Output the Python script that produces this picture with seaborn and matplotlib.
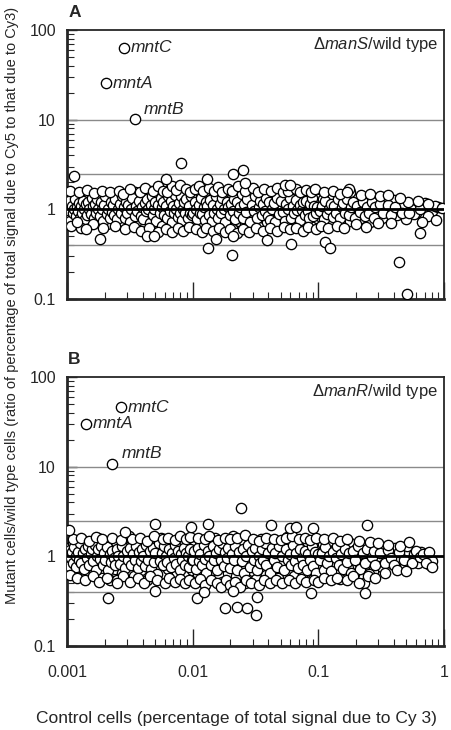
import matplotlib
matplotlib.use("Agg")
import matplotlib.pyplot as plt
import seaborn as sns
import pandas as pd
from matplotlib.ticker import LogLocator, NullFormatter

sns.set_style("ticks")
plt.rcParams['font.family'] = ['Liberation Sans', 'DejaVu Sans']
plt.rcParams['mathtext.fontset'] = 'custom'
plt.rcParams['mathtext.rm'] = 'Liberation Sans'
plt.rcParams['mathtext.it'] = 'Liberation Sans:italic'

# ---------------- data ----------------
X_TICKS = [0.001, 0.01, 0.1, 1]
X_TICK_LABELS = ["0.001", "0.01", "0.1", "1"]
Y_TICKS = [0.1, 1, 10, 100]
Y_TICK_LABELS = ["0.1", "1", "10", "100"]
GUIDE_LINES = [0.4, 2.5, 10]
UNITY = 1.0

GENES = ["mntC", "mntA", "mntB"]
A_GENE_X = [0.00284, 0.00204, 0.00348]
A_GENE_Y = [63.0, 25.6, 10.2]
B_GENE_X = [0.0027, 0.00142, 0.00228]
B_GENE_Y = [46.0, 30.0, 10.6]

A_POINTS = [
    (0.00102,1.18),(0.00103,0.92),(0.00105,1.05),(0.00107,0.85),(0.00108,1.32),(0.0011,1.0),(0.00112,0.78),
    (0.00113,1.12),(0.00115,1.45),(0.00117,0.95),(0.0012,1.22),(0.00122,0.7),(0.00124,1.08),(0.00126,0.88),
    (0.00128,1.38),(0.0013,1.0),(0.00133,0.82),(0.00135,1.15),(0.00138,0.66),(0.0014,1.28),(0.00143,0.93),
    (0.00146,1.05),(0.0015,1.5),(0.00152,0.76),(0.00155,1.12),(0.00158,0.97),(0.00162,1.3),(0.00165,0.86),
    (0.00168,1.02),(0.00172,1.2),(0.00175,0.72),(0.0018,1.4),(0.00183,0.9),(0.00187,1.08),(0.0019,0.8),
    (0.00195,1.25),(0.002,0.98),(0.00205,1.15),(0.0021,0.68),(0.00215,1.35),(0.0022,0.9),(0.00225,1.05),
    (0.0023,1.2),(0.00235,0.78),(0.0024,1.48),(0.00245,0.95),(0.0025,1.1),(0.0026,0.85),(0.00265,1.28),
    (0.0027,1.0),(0.0028,0.73),(0.00285,1.18),(0.0029,0.92),(0.003,1.4),(0.00305,1.05),(0.0031,0.82),
    (0.0032,1.22),(0.0033,0.96),(0.00335,0.7),(0.0034,1.12),(0.0035,1.55),(0.0036,0.88),(0.00365,1.3),
    (0.0037,1.0),(0.0038,0.76),(0.0039,1.16),(0.004,0.93),(0.0041,1.42),(0.0042,0.64),(0.0043,1.08),
    (0.0044,0.85),(0.0045,1.25),(0.0046,1.62),(0.0047,0.98),(0.0048,0.72),(0.0049,1.15),(0.005,1.35),
    (0.0051,0.9),(0.0052,1.05),(0.00535,0.6),(0.0055,1.2),(0.0056,0.8),(0.0057,1.45),(0.0058,1.0),
    (0.0059,0.68),(0.006,1.3),(0.0062,0.92),(0.0063,1.12),(0.0065,0.75),(0.0066,1.7),(0.0067,1.02),
    (0.0069,0.86),(0.007,1.38),(0.0072,0.62),(0.0073,1.18),(0.0075,0.95),(0.0077,1.5),(0.0078,0.78),
    (0.008,1.08),(0.0081,1.28),(0.0083,0.88),(0.0085,1.6),(0.0086,0.7),(0.0088,1.15),(0.009,0.97),
    (0.0092,1.35),(0.0094,0.82),(0.0096,1.05),(0.0098,1.22),
    (0.0102,1.1),(0.0105,0.85),(0.0108,1.3),(0.011,0.95),(0.0113,1.55),(0.0115,0.72),(0.0118,1.05),
    (0.012,1.2),(0.0123,0.8),(0.0126,1.4),(0.013,0.98),(0.0133,0.66),(0.0136,1.15),(0.014,0.9),
    (0.0143,1.32),(0.0147,1.02),(0.015,0.76),(0.0154,1.25),(0.0158,0.87),(0.0162,1.6),(0.0166,1.08),
    (0.017,0.7),(0.0175,1.18),(0.018,0.94),(0.0185,1.42),(0.019,0.82),(0.0195,1.0),(0.02,1.28),
    (0.0205,0.62),(0.021,1.12),(0.0215,0.9),(0.022,1.48),(0.023,1.04),(0.0235,0.75),(0.024,1.22),
    (0.025,0.96),(0.0255,1.36),(0.026,0.68),(0.027,1.1),(0.0275,0.86),(0.028,1.65),(0.029,1.0),
    (0.03,0.78),(0.031,1.26),(0.032,0.92),(0.033,1.14),(0.034,0.64),(0.035,1.4),(0.036,1.02),
    (0.037,0.84),(0.038,1.2),(0.039,0.72),(0.04,1.5),(0.041,0.95),(0.0425,1.08),(0.044,0.8),
    (0.045,1.3),(0.046,0.9),(0.048,1.16),(0.05,0.7),(0.051,1.02),(0.053,1.38),(0.055,0.86),
    (0.056,1.12),(0.058,0.75),(0.06,1.25),(0.062,0.97),(0.063,1.45),(0.065,0.82),(0.067,1.06),
    (0.069,0.66),(0.07,1.2),(0.073,0.92),(0.075,1.34),(0.077,0.78),(0.079,1.1),(0.081,0.88),
    (0.083,1.5),(0.085,1.0),(0.088,0.72),(0.09,1.22),(0.092,0.94),(0.095,1.15),(0.097,0.8),(0.099,1.3),
    (0.102,1.15),(0.105,0.82),(0.108,1.32),(0.112,0.95),(0.115,1.05),(0.12,0.7),(0.124,1.22),
    (0.128,0.88),(0.132,1.4),(0.136,1.0),(0.14,0.78),(0.145,1.12),(0.15,0.92),(0.155,1.28),
    (0.16,0.84),(0.165,1.05),(0.172,1.48),(0.178,0.74),(0.185,1.18),(0.19,0.96),(0.2,1.3),
    (0.205,0.86),(0.21,1.08),(0.22,0.8),(0.23,1.2),(0.24,0.95),(0.25,1.12),(0.26,0.72),(0.27,1.02),
    (0.28,1.3),(0.29,0.88),(0.3,1.1),(0.32,0.8),(0.34,1.2),(0.35,0.94),(0.37,1.05),(0.4,1.28),
    (0.42,0.86),(0.44,1.0),(0.48,1.15),(0.5,0.78),(0.55,1.02),(0.6,0.92),(0.7,1.18),(0.8,0.95),(0.9,1.05),
]

A_POINTS_DENSE = [
    (0.00101,0.98),(0.00104,1.25),(0.00106,0.75),(0.00109,1.1),(0.00111,0.9),(0.00114,1.02),(0.00116,1.3),
    (0.00119,0.84),(0.00121,1.05),(0.00123,0.95),(0.00125,1.18),(0.00127,0.8),(0.00129,1.1),(0.00132,0.9),
    (0.00134,1.25),(0.00137,1.0),(0.00139,0.78),(0.00142,1.15),(0.00145,0.86),(0.00148,1.2),(0.00151,1.0),
    (0.00154,0.88),(0.00157,1.35),(0.0016,1.08),(0.00163,0.8),(0.00167,1.15),(0.0017,0.92),(0.00174,1.3),
    (0.00178,1.0),(0.00182,0.84),(0.00185,1.2),(0.00189,1.0),(0.00193,0.75),(0.00198,1.12),(0.00202,1.4),
    (0.00208,0.88),(0.00212,1.02),(0.00218,0.8),(0.00222,1.22),(0.00228,0.94),(0.00233,1.12),(0.00238,0.86),
    (0.00243,1.3),(0.00248,0.78),(0.00255,1.02),(0.00262,1.16),(0.00268,0.9),(0.00275,1.4),(0.00282,1.05),
    (0.00288,0.8),(0.00295,1.22),(0.00302,0.9),(0.00308,1.12),(0.00315,0.72),(0.00325,1.0),(0.00332,1.35),
    (0.00345,0.84),(0.00355,1.08),(0.00362,0.95),(0.00375,1.25),(0.00385,0.84),(0.00395,1.05),(0.00405,0.78),
    (0.00415,1.18),(0.00425,0.95),(0.00435,1.3),(0.00445,1.02),(0.00455,0.7),(0.00465,1.12),(0.00475,1.4),
    (0.00485,0.86),(0.00495,1.02),(0.00505,1.22),(0.00515,0.75),(0.0053,1.12),(0.00545,0.92),(0.00555,1.35),
    (0.00565,0.66),(0.00575,1.05),(0.00585,1.2),(0.00595,0.86),(0.0061,1.1),(0.00625,0.8),(0.0064,1.4),
    (0.00655,0.96),(0.00675,1.25),(0.00685,0.72),(0.00695,1.08),(0.0071,0.9),(0.00725,1.45),(0.0074,1.02),
    (0.0076,0.82),(0.00775,1.18),(0.0079,0.9),(0.00805,1.4),(0.0082,0.76),(0.0084,1.02),(0.00855,1.22),
    (0.0087,0.9),(0.0089,1.3),(0.0091,0.8),(0.0093,1.1),(0.0095,0.92),(0.0097,1.4),(0.0099,0.86),
    (0.0101,0.92),(0.0104,1.2),(0.0107,1.0),(0.0109,0.78),(0.0112,1.12),(0.0114,0.9),(0.0117,1.35),
    (0.0119,0.88),(0.0122,1.05),(0.0125,0.76),(0.0128,1.22),(0.0131,1.08),(0.0135,0.86),(0.0138,1.28),
    (0.0142,0.74),(0.0145,1.12),(0.0149,0.92),(0.0152,1.42),(0.0156,1.0),(0.016,0.8),(0.0164,1.15),
    (0.0168,0.9),(0.0172,1.35),(0.0177,1.0),(0.0182,0.72),(0.0187,1.2),(0.0192,1.05),(0.0197,0.86),
    (0.0202,1.15),(0.0208,0.95),(0.0212,1.32),(0.0218,0.78),(0.0225,1.2),(0.0232,0.9),(0.0238,1.05),
    (0.0245,1.5),(0.0252,0.8),(0.0258,1.15),(0.0265,0.94),(0.0272,1.3),(0.0285,0.72),(0.0295,1.12),
    (0.0305,0.95),(0.0315,1.4),(0.0325,0.8),(0.0335,1.05),(0.0345,1.25),(0.0355,0.86),(0.0365,1.15),
    (0.0375,0.96),(0.0385,1.35),(0.0395,0.84),(0.0405,1.2),(0.0415,0.76),(0.043,1.02),(0.0445,1.18),
    (0.0455,0.72),(0.047,1.35),(0.049,0.88),(0.0505,1.25),(0.052,0.94),(0.054,0.74),(0.055,1.15),
    (0.057,1.02),(0.059,1.35),(0.061,0.8),(0.0625,1.1),(0.0645,0.9),(0.066,1.28),(0.068,0.98),
    (0.071,0.76),(0.072,1.12),(0.074,0.98),(0.076,1.2),(0.078,0.86),(0.08,1.25),(0.082,0.96),
    (0.084,0.8),(0.086,1.15),(0.089,1.35),(0.091,0.84),(0.093,1.1),(0.096,0.9),(0.098,1.05),
    (0.103,0.95),(0.107,1.1),(0.11,0.78),(0.114,1.25),(0.118,0.88),(0.122,1.02),(0.126,1.15),
    (0.13,0.82),(0.134,1.08),(0.138,0.92),(0.143,1.3),(0.148,0.8),(0.153,1.05),(0.158,1.18),
    (0.163,0.92),(0.168,1.3),(0.175,0.86),(0.182,1.05),(0.188,1.2),(0.195,0.8),(0.202,1.1),
    (0.215,0.94),(0.225,1.22),(0.235,0.84),(0.245,1.05),(0.255,0.9),(0.265,1.2),(0.275,0.8),
    (0.285,1.05),(0.31,1.15),(0.33,0.9),(0.36,1.12),(0.38,0.86),(0.41,1.05),(0.46,0.9),
    (0.52,1.2),(0.58,0.88),(0.65,1.02),(0.75,0.85),(0.85,1.1),
]

A_EDGE = [
    (0.00106,1.6),(0.00125,1.55),(0.00145,1.65),(0.00165,1.52),(0.0019,1.6),(0.0022,1.55),(0.0026,1.62),
    (0.0028,1.5),(0.0032,1.68),(0.0038,1.58),(0.0042,1.75),(0.0048,1.6),(0.0053,1.8),(0.0058,1.62),
    (0.0063,1.55),(0.0069,1.8),(0.0074,1.65),(0.0079,1.85),(0.0089,1.7),(0.0095,1.58),(0.0104,1.7),
    (0.0112,1.82),(0.012,1.62),(0.0135,1.75),(0.0148,1.6),(0.016,1.78),(0.0172,1.55),(0.019,1.7),
    (0.0205,1.62),(0.023,1.8),(0.0262,1.6),(0.03,1.72),(0.033,1.55),(0.037,1.68),(0.042,1.6),
    (0.047,1.75),(0.052,1.58),(0.057,1.62),(0.066,1.7),(0.072,1.55),(0.08,1.65),(0.087,1.58),
    (0.094,1.7),(0.11,1.55),(0.13,1.6),(0.15,1.5),(0.18,1.58),(0.22,1.45),(0.26,1.5),(0.31,1.42),(0.36,1.45),
    (0.00108,0.66),(0.0013,0.62),(0.0016,0.68),(0.00195,0.62),(0.0024,0.66),(0.0029,0.6),(0.0034,0.64),
    (0.0039,0.58),(0.0045,0.62),(0.0053,0.56),(0.0061,0.6),(0.0068,0.56),(0.0076,0.62),(0.0084,0.58),
    (0.0093,0.64),(0.0106,0.6),(0.0118,0.56),(0.0128,0.62),(0.0145,0.58),(0.0163,0.62),(0.018,0.56),
    (0.02,0.6),(0.0225,0.54),(0.025,0.6),(0.028,0.56),(0.032,0.62),(0.036,0.58),(0.041,0.62),
    (0.047,0.58),(0.053,0.64),(0.06,0.6),(0.067,0.62),(0.075,0.58),(0.083,0.64),(0.095,0.6),
    (0.105,0.66),(0.12,0.62),(0.14,0.66),(0.16,0.62),(0.2,0.68),(0.24,0.64),(0.3,0.7),(0.38,0.7),
]

A_OUTLIERS = [
    (0.0081,3.26),(0.00114,2.34),(0.021,2.5),(0.025,2.73),(0.0061,2.2),(0.013,2.16),(0.026,1.95),
    (0.054,1.85),(0.059,1.85),(0.175,1.67),(0.168,1.55),(0.45,1.33),(0.62,1.23),(0.75,1.14),
    (0.97,1.03),(0.87,0.77),(0.64,0.54),(0.67,0.72),(0.53,0.9),
    (0.00183,0.47),(0.0043,0.51),(0.0049,0.51),(0.0132,0.37),(0.0153,0.47),(0.0206,0.31),(0.021,0.5),
    (0.039,0.45),(0.0605,0.41),(0.113,0.43),(0.123,0.37),(0.44,0.26),(0.51,0.115),
    (0.0012,0.73),(0.00142,0.61),
]

B_POINTS = [
    (0.00103,1.25),(0.00105,0.9),(0.00107,1.05),(0.00109,0.8),(0.00111,1.4),(0.00113,0.98),(0.00115,0.7),
    (0.00118,1.15),(0.0012,0.88),(0.00123,1.3),(0.00126,1.02),(0.00129,0.76),(0.00132,1.2),(0.00135,0.94),
    (0.00138,1.5),(0.00142,0.66),(0.00145,1.1),(0.00148,0.85),(0.00152,1.32),(0.00156,1.0),(0.0016,0.74),
    (0.00164,1.22),(0.00168,0.92),(0.00172,1.08),(0.00176,1.6),(0.0018,0.82),(0.00185,1.15),(0.0019,0.58),
    (0.00195,1.0),(0.002,1.38),(0.00205,0.78),(0.0021,1.12),(0.00215,0.9),(0.0022,0.54),(0.00225,1.26),
    (0.0023,1.02),(0.0024,0.72),(0.00245,1.45),(0.0025,0.88),(0.0026,1.18),(0.0027,0.95),(0.00275,0.66),
    (0.00285,1.3),(0.00295,1.05),(0.003,0.8),(0.0031,1.7),(0.0032,0.92),(0.0033,1.2),(0.0034,0.6),
    (0.0035,1.08),(0.0036,0.84),(0.0037,1.4),(0.0038,0.98),(0.0039,0.7),(0.004,1.25),(0.0041,0.9),
    (0.0042,1.12),(0.00435,0.55),(0.0045,1.5),(0.0046,0.82),(0.0047,1.05),(0.00485,0.68),(0.005,1.3),
    (0.0051,0.94),(0.00525,1.18),(0.0054,0.76),(0.0055,1.02),(0.0056,1.62),(0.00575,0.62),(0.0059,1.22),
    (0.006,0.88),(0.0062,1.1),(0.00635,0.72),(0.0065,1.42),(0.0066,0.96),(0.0068,0.56),(0.007,1.28),
    (0.0071,0.85),(0.0073,1.06),(0.0075,0.66),(0.0077,1.55),(0.0078,0.92),(0.008,1.15),(0.0082,0.78),
    (0.0084,1.35),(0.0086,1.0),(0.0088,0.6),(0.009,1.2),(0.0092,0.86),(0.0095,1.45),(0.0097,0.98),(0.0099,0.7),
    (0.0102,1.3),(0.0105,0.82),(0.0108,1.08),(0.0111,0.64),(0.0114,1.5),(0.0117,0.95),(0.012,1.2),
    (0.0123,0.74),(0.0127,1.02),(0.013,1.38),(0.0134,0.58),(0.0138,0.88),(0.0142,1.15),(0.0146,0.7),
    (0.015,1.6),(0.0155,0.98),(0.016,0.8),(0.0165,1.25),(0.017,0.52),(0.0175,1.05),(0.018,0.9),
    (0.0185,1.4),(0.019,0.66),(0.0195,1.12),(0.02,0.84),(0.021,1.7),(0.0215,1.0),(0.022,0.6),
    (0.023,1.22),(0.024,0.78),(0.025,1.45),(0.0255,0.94),(0.026,0.5),(0.027,1.1),(0.028,0.86),
    (0.029,1.32),(0.03,0.68),(0.031,1.05),(0.032,0.56),(0.033,1.18),(0.034,0.92),(0.035,1.55),
    (0.036,0.76),(0.037,1.02),(0.038,0.62),(0.039,1.28),(0.04,0.88),(0.042,1.12),(0.043,0.72),
    (0.045,1.42),(0.046,0.97),(0.048,0.58),(0.05,1.2),(0.052,0.84),(0.054,1.06),(0.056,1.65),
    (0.058,0.7),(0.06,1.3),(0.062,0.92),(0.064,0.6),(0.066,1.15),(0.068,1.5),(0.07,0.8),(0.072,1.02),
    (0.075,0.66),(0.077,1.25),(0.08,0.9),(0.082,1.4),(0.085,0.74),(0.087,1.1),(0.09,0.56),(0.092,0.95),
    (0.095,1.28),(0.098,0.82),
    (0.102,1.18),(0.105,0.78),(0.108,1.38),(0.112,0.92),(0.116,0.6),(0.12,1.08),(0.125,1.5),(0.13,0.85),
    (0.135,1.2),(0.14,0.7),(0.145,1.02),(0.15,0.56),(0.155,1.3),(0.16,0.9),(0.166,1.12),(0.172,0.74),
    (0.18,1.42),(0.186,0.96),(0.192,0.64),(0.2,1.2),(0.21,0.86),(0.22,1.05),(0.23,0.5),(0.24,1.3),
    (0.25,0.8),(0.26,1.1),(0.27,0.68),(0.28,1.25),(0.29,0.94),(0.3,1.02),(0.32,0.76),(0.33,1.2),
    (0.35,0.9),(0.37,1.1),(0.39,0.82),(0.41,1.25),(0.43,0.96),(0.46,1.08),(0.49,0.78),(0.52,1.15),
    (0.55,0.92),(0.58,1.05),(0.62,0.85),(0.66,1.12),(0.7,0.95),(0.74,1.08),(0.78,0.8),(0.8,0.88),
]

B_POINTS_DENSE = [
    (0.00101,1.05),(0.00104,0.78),(0.00106,1.18),(0.00108,0.95),(0.0011,1.12),(0.00112,0.84),(0.00114,1.28),
    (0.00117,1.0),(0.00119,0.76),(0.00122,1.12),(0.00125,0.9),(0.00127,1.4),(0.0013,0.85),(0.00134,1.08),
    (0.00137,0.72),(0.0014,1.2),(0.00144,0.96),(0.00147,1.3),(0.0015,0.8),(0.00154,1.05),(0.00158,1.22),
    (0.00162,0.88),(0.00166,1.35),(0.0017,0.7),(0.00174,1.0),(0.00178,1.2),(0.00183,0.94),(0.00188,1.3),
    (0.00192,0.8),(0.00197,1.1),(0.00202,0.9),(0.00208,1.28),(0.00212,0.7),(0.00218,1.05),(0.00222,0.86),
    (0.00228,1.15),(0.00235,0.96),(0.00242,0.8),(0.00248,1.2),(0.00255,1.02),(0.00265,0.82),(0.00272,1.32),
    (0.0028,1.0),(0.0029,0.74),(0.00298,1.15),(0.00305,0.92),(0.00315,1.25),(0.00325,0.8),(0.00335,1.05),
    (0.00345,0.9),(0.00355,1.3),(0.00365,0.74),(0.00375,1.12),(0.00385,0.88),(0.00395,1.2),(0.00405,1.02),
    (0.00415,0.78),(0.00425,1.35),(0.00445,0.92),(0.00455,1.15),(0.00465,0.72),(0.0048,1.25),(0.00495,0.86),
    (0.00505,1.08),(0.0052,0.64),(0.00535,1.4),(0.00545,0.88),(0.00565,1.1),(0.00585,0.8),(0.00595,1.3),
    (0.0061,1.0),(0.0063,0.86),(0.00645,1.2),(0.0067,0.76),(0.0069,1.1),(0.00705,0.96),(0.0072,1.35),
    (0.0074,0.82),(0.0076,1.15),(0.0079,0.7),(0.0081,1.05),(0.0083,0.92),(0.0085,1.25),(0.0087,0.8),
    (0.0089,1.1),(0.0091,1.0),(0.0094,0.76),(0.0096,1.2),(0.0098,0.9),
    (0.0101,0.9),(0.0103,1.15),(0.0106,0.72),(0.011,1.25),(0.0112,0.88),(0.0115,1.05),(0.0119,0.8),
    (0.0122,1.35),(0.0125,0.94),(0.0128,0.66),(0.0132,1.15),(0.0136,1.0),(0.014,0.8),(0.0144,1.3),
    (0.0148,0.9),(0.0152,1.1),(0.0157,0.7),(0.0162,1.2),(0.0167,0.9),(0.0172,1.42),(0.0177,0.78),
    (0.0182,1.12),(0.0187,0.96),(0.0192,1.25),(0.0197,0.74),(0.0205,1.05),(0.0212,0.9),(0.0218,1.3),
    (0.0225,0.7),(0.0235,1.12),(0.0245,0.88),(0.0252,1.2),(0.0258,0.66),(0.0265,1.02),(0.0275,1.35),
    (0.0285,0.76),(0.0295,1.15),(0.0305,0.9),(0.0315,1.25),(0.0325,0.7),(0.0335,1.0),(0.0345,0.84),
    (0.0355,1.2),(0.0365,0.92),(0.0375,1.4),(0.0385,0.8),(0.0395,1.08),(0.041,0.66),(0.0425,1.25),
    (0.044,0.92),(0.0455,1.1),(0.047,0.76),(0.049,1.3),(0.051,1.0),(0.053,0.7),(0.055,1.2),
    (0.057,0.9),(0.059,1.05),(0.061,0.8),(0.063,1.35),(0.065,0.88),(0.067,1.1),(0.069,0.74),
    (0.071,1.22),(0.0735,0.96),(0.076,0.8),(0.0785,1.15),(0.081,0.7),(0.0835,1.05),(0.086,0.9),
    (0.0885,1.3),(0.091,0.78),(0.0935,1.12),(0.096,0.66),(0.099,1.05),
    (0.103,0.9),(0.107,1.1),(0.11,0.7),(0.114,1.28),(0.118,0.84),(0.122,1.02),(0.127,0.68),
    (0.132,1.12),(0.137,0.95),(0.142,1.3),(0.147,0.8),(0.152,1.05),(0.157,0.72),(0.163,1.2),
    (0.169,0.86),(0.176,1.08),(0.183,0.66),(0.19,1.15),(0.196,0.9),(0.205,1.3),(0.215,0.72),
    (0.225,1.1),(0.235,0.85),(0.245,1.2),(0.255,0.64),(0.265,0.98),(0.275,1.15),(0.285,0.8),
    (0.31,1.1),(0.34,0.84),(0.36,1.18),(0.38,0.95),(0.4,0.8),(0.44,1.12),(0.48,0.92),
    (0.51,1.3),(0.56,0.85),(0.6,1.15),(0.64,0.98),(0.68,1.05),(0.72,0.84),(0.76,1.12),
]

B_EDGE = [
    (0.00112,1.55),(0.0013,1.62),(0.0015,1.5),(0.0017,1.65),(0.0019,1.55),(0.0023,1.6),(0.0027,1.52),
    (0.0033,1.58),(0.0038,1.62),(0.0043,1.5),(0.0049,1.7),(0.0058,1.55),(0.0064,1.6),(0.0072,1.52),
    (0.008,1.68),(0.0088,1.55),(0.0096,1.65),(0.011,1.6),(0.0125,1.55),(0.0135,1.68),(0.016,1.52),
    (0.018,1.62),(0.02,1.55),(0.0225,1.6),(0.026,1.72),(0.03,1.58),(0.034,1.5),(0.038,1.62),
    (0.044,1.58),(0.05,1.52),(0.055,1.6),(0.062,1.7),(0.07,1.55),(0.078,1.6),(0.086,1.52),(0.095,1.6),
    (0.11,1.55),(0.13,1.6),(0.15,1.5),(0.17,1.55),(0.21,1.5),(0.26,1.45),(0.3,1.4),(0.36,1.35),(0.45,1.32),
    (0.00105,0.62),(0.0012,0.58),(0.0014,0.55),(0.0016,0.6),(0.0018,0.52),(0.0021,0.58),(0.0025,0.55),
    (0.0028,0.6),(0.0032,0.52),(0.0037,0.58),(0.0041,0.5),(0.0046,0.6),(0.0052,0.54),(0.006,0.5),
    (0.0065,0.58),(0.0072,0.52),(0.0079,0.56),(0.0087,0.5),(0.0094,0.55),(0.0104,0.5),(0.0115,0.56),
    (0.0126,0.48),(0.014,0.55),(0.0155,0.5),(0.0168,0.46),(0.0185,0.55),(0.02,0.48),(0.0218,0.52),
    (0.024,0.46),(0.0265,0.55),(0.029,0.5),(0.0335,0.48),(0.037,0.54),(0.041,0.5),(0.046,0.55),
    (0.051,0.5),(0.058,0.55),(0.065,0.5),(0.073,0.56),(0.08,0.52),(0.092,0.55),(0.1,0.52),(0.11,0.58),
    (0.125,0.55),(0.14,0.58),(0.17,0.55),(0.19,0.6),(0.21,0.5),(0.25,0.6),(0.28,0.58),(0.34,0.66),
    (0.42,0.7),(0.5,0.68),
]

B_OUTLIERS = [
    (0.0242,3.43),(0.005,2.27),(0.0132,2.27),(0.042,2.22),(0.243,2.22),(0.00104,1.95),(0.0029,1.85),
    (0.0097,2.1),(0.06,2.05),(0.067,2.1),(0.09,2.05),(0.53,1.45),
    (0.00212,0.34),(0.018,0.263),(0.0225,0.27),(0.027,0.263),(0.032,0.22),(0.0108,0.34),(0.088,0.39),
    (0.234,0.39),(0.0123,0.4),(0.021,0.41),(0.0325,0.35),(0.005,0.41),(0.0025,0.51),(0.8,0.77),
]

# ---------------- figure ----------------
W, H = 452, 730
fig = plt.figure(figsize=(W / 100, H / 100), dpi=100)
axA = fig.add_axes([67 / W, 1 - 299 / H, 377 / W, 269 / H])
axB = fig.add_axes([67 / W, 1 - 646 / H, 377 / W, 269 / H])

MS = 55
MLW = 0.95


def draw(ax, points, gx, gy, label_italic, gene_offsets, letter, show_x):
    df = pd.DataFrame(points, columns=["x", "y"])
    for g in GUIDE_LINES:
        ax.axhline(g, color="#8a8a8a", lw=1.0, zorder=1)
    sns.scatterplot(data=df, x="x", y="y", ax=ax, s=MS, facecolor="white",
                    edgecolor="black", linewidth=MLW, zorder=3, legend=False)
    gdf = pd.DataFrame({"x": gx, "y": gy, "g": GENES})
    sns.scatterplot(data=gdf, x="x", y="y", ax=ax, s=MS, facecolor="white",
                    edgecolor="black", linewidth=MLW, zorder=3, legend=False)
    ax.axhline(UNITY, color="black", lw=2.0, zorder=4)
    for (x, y, g), off in zip(zip(gx, gy, GENES), gene_offsets):
        ax.annotate(g, (x, y), xytext=off, textcoords="offset points",
                    fontsize=12.5, style="italic", va="center", ha="left")
    ax.set_xscale("log")
    ax.set_yscale("log")
    ax.set_xlim(0.001, 1)
    ax.set_ylim(0.1, 100)
    ax.set_xlabel("")
    ax.set_ylabel("")
    ax.set_yticks(Y_TICKS)
    ax.set_yticklabels(Y_TICK_LABELS, fontsize=11.5)
    ax.yaxis.set_minor_locator(LogLocator(base=10, subs=range(2, 10)))
    ax.yaxis.set_minor_formatter(NullFormatter())
    ax.set_xticks(X_TICKS)
    ax.xaxis.set_minor_locator(LogLocator(base=10, subs=range(2, 10)))
    ax.xaxis.set_minor_formatter(NullFormatter())
    if show_x:
        ax.set_xticklabels(X_TICK_LABELS, fontsize=11.5)
    else:
        ax.set_xticklabels([])
    ax.tick_params(axis="y", which="major", direction="in", length=7, width=1.0, pad=8)
    ax.tick_params(axis="y", which="minor", direction="in", length=5, width=0.8)
    ax.tick_params(axis="x", which="major", direction="in", length=12, width=1.0, pad=14)
    ax.tick_params(axis="x", which="minor", direction="in", length=5, width=0.8)
    for s in ["left", "bottom"]:
        ax.spines[s].set_linewidth(2.0)
    for s in ["top", "right"]:
        ax.spines[s].set_linewidth(1.3)
        ax.spines[s].set_visible(True)
    ax.text(0.985, 0.945, "Δ$\\mathit{" + label_italic + "}$/wild type", transform=ax.transAxes,
            ha="right", va="center", fontsize=12)
    ax.text(0.003, 1.065, letter, transform=ax.transAxes, ha="left", va="center",
            fontsize=12.5, fontweight="bold")


draw(axA, A_POINTS + A_POINTS_DENSE + A_EDGE + A_OUTLIERS, A_GENE_X, A_GENE_Y, "manS",
     [(5, 0), (5, 0), (6, 7)], "A", False)
draw(axB, B_POINTS + B_POINTS_DENSE + B_EDGE + B_OUTLIERS, B_GENE_X, B_GENE_Y, "manR",
     [(5, 0), (5, 0), (7, 8)], "B", True)

fig.text(12 / W, 1 - 305 / H,
         "Mutant cells/wild type cells (ratio of percentage of total signal due to Cy5 to that due to Cy3)",
         rotation=90, ha="center", va="center", fontsize=10.5)
fig.text(236 / W, 1 - 718 / H, "Control cells (percentage of total signal due to Cy 3)",
         ha="center", va="center", fontsize=12.5)

fig.savefig("out.png", dpi=100)
